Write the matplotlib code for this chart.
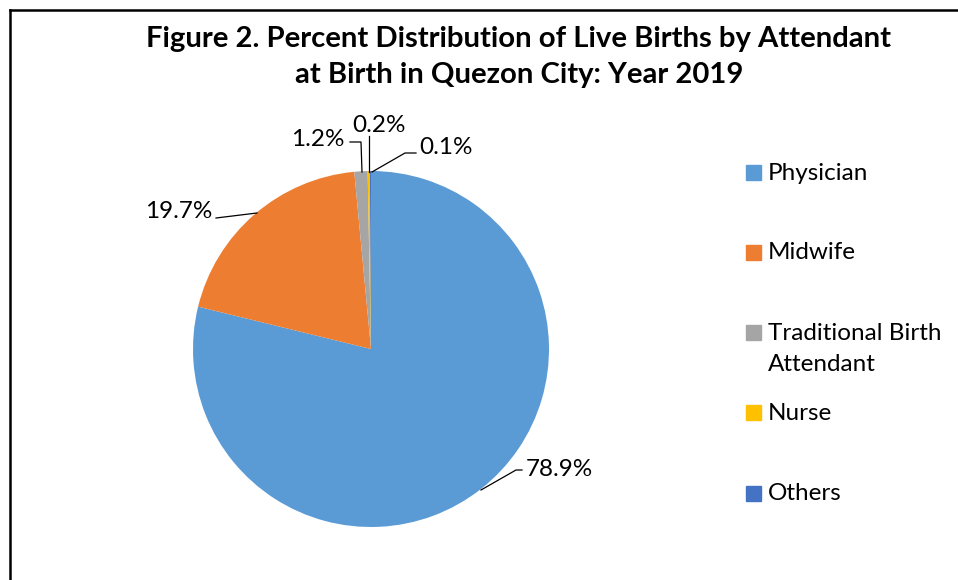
import matplotlib
matplotlib.use("Agg")
import matplotlib.pyplot as plt
import numpy as np
from matplotlib.patches import Rectangle

categories = ["Physician", "Midwife", "Traditional Birth\nAttendant", "Nurse", "Others"]
values = [78.9, 19.7, 1.2, 0.2, 0.1]
labels = ["78.9%", "19.7%", "1.2%", "0.2%", "0.1%"]
colors = ["#5B9BD5", "#ED7D31", "#A5A5A5", "#FFC000", "#4472C4"]

W, H = 958, 580
plt.rcParams['font.family'] = ['Lato', 'DejaVu Sans']
fig = plt.figure(figsize=(W/100, H/100), dpi=100)

def fx(px):
    return px / W
def fy(py):
    return 1 - py / H

# frame
fig.add_artist(plt.Line2D([fx(10), fx(10)], [fy(10), 0], color='black', lw=1.8, transform=fig.transFigure))
fig.add_artist(plt.Line2D([fx(10), 1], [fy(10), fy(10)], color='black', lw=1.8, transform=fig.transFigure))

# title
fig.text(fx(519), fy(57), "Figure 2. Percent Distribution of Live Births by Attendant\nat Birth in Quezon City: Year 2019",
         ha='center', va='center', fontsize=21.1, fontweight='bold', linespacing=1.5)

cx, cy, r = 371, 349, 178
ax = fig.add_axes([fx(cx - r), fy(cy + r), 2*r/W, 2*r/H])
wedges, _ = ax.pie(values, colors=colors, startangle=90, counterclock=False,
                   wedgeprops=dict(linewidth=0))
ax.set_xlim(-1, 1)
ax.set_ylim(-1, 1)
ax.set_aspect('auto')
ax.axis('off')

# label text positions (pixels) and leader-line elbows
text_pos = [(559, 469), (179, 212), (318, 140), (379, 125), (446, 148)]
elbows = [[(516, 470), (522, 470)], [(257, 213), (216, 218)], [(361, 142), (350, 142)],
          [(369, 136)], [(405, 153), (416, 153)]]
anchors = [(481, 490), (257, 213), (362, 172), (369, 172), (372, 172)]

def d2(px, py):
    return ((px - cx) / r, (cy - py) / r)

for i, lab in enumerate(labels):
    pts = [anchors[i]] + elbows[i]
    xs = [d2(*p)[0] for p in pts]
    ys = [d2(*p)[1] for p in pts]
    ax.plot(xs, ys, color='black', lw=0.9, clip_on=False)
    tx, ty = d2(*text_pos[i])
    ax.text(tx, ty, lab, ha='center', va='center', fontsize=17.5, clip_on=False)

# legend
leg_y = [173, 253, 349, 413, 494]
for i, cat in enumerate(categories):
    y = leg_y[i]
    sq_y = y - 16 if '\n' in cat else y
    fig.add_artist(Rectangle((fx(746), fy(sq_y + 7)), 15/W, 15/H, color=colors[i], transform=fig.transFigure))
    fig.text(fx(768), fy(y), cat, ha='left', va='center', fontsize=17.5, linespacing=1.55)

fig.savefig("out.png", dpi=100)
